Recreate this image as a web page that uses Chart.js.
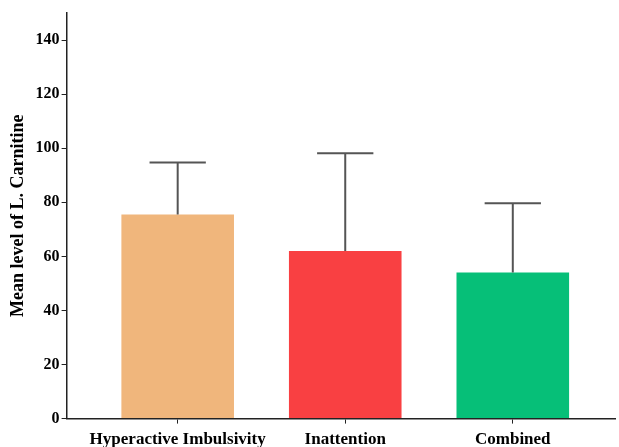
<!DOCTYPE html>
<html>
<head>
<meta charset="utf-8">
<script src="https://cdn.jsdelivr.net/npm/chart.js@4/dist/chart.umd.min.js"></script>
<style>
  html, body { margin: 0; padding: 0; background: #fff; }
  #wrap { width: 619px; height: 447px; }
</style>
</head>
<body>
<div id="wrap"><canvas id="chart" width="619" height="447"></canvas></div>
<script>
// groups and their mean / SD of L. Carnitine
const groups = ['Hyperactive Imbulsivity', 'Inattention', 'Combined'];
const groupPos = [1, 2, 3];
const means = [75.5, 62, 54];
const sds = [19.2, 36.1, 25.6];
const barColors = ['#F0B67C', '#F94042', '#06BF78'];
const yTicks = [0, 20, 40, 60, 80, 100, 120, 140];

const serif = "'Liberation Serif', 'Times New Roman', serif";
const axisColor = '#222';

// upper error bar (mean + SD) with a cap
const errorBars = {
  id: 'errorBars',
  afterDatasetsDraw(chart) {
    const ctx = chart.ctx;
    const xs = chart.scales.x;
    const ys = chart.scales.y;
    const meta = chart.getDatasetMeta(0);
    ctx.save();
    ctx.strokeStyle = '#555';
    ctx.lineWidth = 2;
    for (let i = 0; i < means.length; i++) {
      const x = xs.getPixelForValue(groupPos[i]);
      const y0 = ys.getPixelForValue(means[i]);
      const y1 = ys.getPixelForValue(means[i] + sds[i]);
      const half = meta.data[i].width / 4;
      ctx.beginPath();
      ctx.moveTo(x, y0);
      ctx.lineTo(x, y1);
      ctx.moveTo(x - half, y1);
      ctx.lineTo(x + half, y1);
      ctx.stroke();
    }
    ctx.restore();
  }
};

new Chart(document.getElementById('chart'), {
  type: 'bar',
  data: {
    datasets: [{
      data: groupPos.map((p, i) => ({ x: p, y: means[i] })),
      backgroundColor: barColors,
      borderWidth: 0,
      barPercentage: 0.84,
      categoryPercentage: 0.8
    }]
  },
  options: {
    responsive: false,
    animation: false,
    // labels hang a little past the reserved bottom space
    layout: { padding: { top: 13, right: 4, left: 8, bottom: -9 } },
    plugins: { legend: { display: false }, tooltip: { enabled: false } },
    scales: {
      x: {
        type: 'linear',
        offset: false,
        min: 0.337,
        max: 3.61,
        afterBuildTicks: (scale) => { scale.ticks = groupPos.map(v => ({ value: v })); },
        ticks: {
          callback: (v) => groups[v - 1],
          color: '#000',
          font: { family: serif, size: 17, weight: 'bold' },
          maxRotation: 0,
          autoSkip: false,
          padding: 6
        },
        grid: { offset: false, drawOnChartArea: false, drawTicks: true, tickLength: 5, color: axisColor },
        border: { display: true, color: axisColor, width: 1.5 }
      },
      y: {
        min: 0,
        max: 150,
        afterBuildTicks: (scale) => { scale.ticks = yTicks.map(v => ({ value: v })); },
        ticks: {
          color: '#000',
          font: { family: serif, size: 16, weight: 'bold' },
          padding: 2
        },
        grid: { drawOnChartArea: false, drawTicks: true, tickLength: 5, color: axisColor },
        border: { display: true, color: axisColor, width: 1.5 },
        title: {
          display: true,
          text: 'Mean level of L. Carnitine',
          color: '#000',
          font: { family: serif, size: 18, weight: 'bold' },
          padding: { top: 0, bottom: 4 }
        }
      }
    }
  },
  plugins: [errorBars]
});
</script>
</body>
</html>
